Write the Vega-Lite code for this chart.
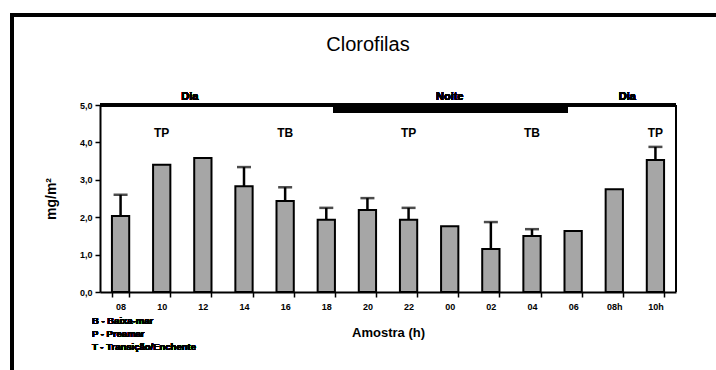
{
  "$schema": "https://vega.github.io/schema/vega-lite/v6.json",
  "width": 712,
  "height": 363,
  "autosize": {"type": "none"},
  "padding": {"left": 12, "top": 15, "right": -8, "bottom": -8},
  "background": "white",
  "view": {"stroke": "black", "strokeWidth": 4},
  "title": {"text": "Clorofilas", "offset": -40, "dx": 0, "fontSize": 20, "fontWeight": "normal", "font": "Liberation Sans", "anchor": "middle", "color": "black"},
  "config": {
    "font": "Liberation Sans",
    "axis": {"domainColor": "black", "tickColor": "black", "labelColor": "black", "titleColor": "black", "grid": false}
  },
  "data": {"values": [
    {"hora": "08", "valor": 2.03, "sup": 2.6},
    {"hora": "10", "valor": 3.40, "sup": null},
    {"hora": "12", "valor": 3.58, "sup": null},
    {"hora": "14", "valor": 2.83, "sup": 3.34},
    {"hora": "16", "valor": 2.43, "sup": 2.8},
    {"hora": "18", "valor": 1.93, "sup": 2.25},
    {"hora": "20", "valor": 2.19, "sup": 2.51},
    {"hora": "22", "valor": 1.93, "sup": 2.25},
    {"hora": "00", "valor": 1.76, "sup": null},
    {"hora": "02", "valor": 1.15, "sup": 1.87},
    {"hora": "04", "valor": 1.50, "sup": 1.68},
    {"hora": "06", "valor": 1.63, "sup": null},
    {"hora": "08h", "valor": 2.75, "sup": null},
    {"hora": "10h", "valor": 3.53, "sup": 3.88}
  ]},
  "encoding": {
    "x": {
      "field": "hora", "type": "nominal", "sort": null,
      "scale": {"range": [88, 664], "paddingInner": 0.58, "paddingOuter": 0.29},
      "axis": {
        "orient": "bottom", "offset": -86, "title": "Amostra (h)", "labelAngle": 0,
        "labelFont": "Liberation Sans", "labelFontSize": 9, "labelFontWeight": "bold", "labelPadding": 5,
        "titleFontSize": 13, "titleFontWeight": "bold", "titlePadding": 15,
        "domainWidth": 2, "tickWidth": 1.5, "tickSize": 5, "tickBand": "extent"
      }
    },
    "y": {
      "type": "quantitative",
      "scale": {"domain": [0, 5], "nice": false, "zero": true, "range": [277, 90]}
    }
  },
  "layer": [
    {
      "mark": {"type": "bar", "fill": "#a6a6a6", "stroke": "black", "strokeWidth": 2},
      "encoding": {
        "y": {
          "field": "valor", "type": "quantitative",
          "axis": {
            "orient": "left", "offset": -88, "title": "mg/m²", "values": [0, 1, 2, 3, 4, 5],
            "labelExpr": "replace(format(datum.value, '.1f'), '.', ',')",
            "labelFontSize": 9, "labelFontWeight": "bold", "labelPadding": 3,
            "titleFontSize": 14, "titleFontWeight": "bold", "titlePadding": 21,
            "domainWidth": 2, "tickWidth": 1.5, "tickSize": 5
          }
        }
      }
    },
    {
      "transform": [{"filter": "datum.sup != null"}],
      "mark": {"type": "rule", "color": "black", "strokeWidth": 2.5},
      "encoding": {"y": {"field": "valor", "type": "quantitative"}, "y2": {"field": "sup"}}
    },
    {
      "transform": [{"filter": "datum.sup != null"}],
      "mark": {"type": "tick", "color": "black", "thickness": 2.5, "size": 14},
      "encoding": {"y": {"field": "sup", "type": "quantitative"}}
    },
    {
      "data": {"values": [
        {"hora": "10", "rotulo": "TP"},
        {"hora": "16", "rotulo": "TB"},
        {"hora": "22", "rotulo": "TP"},
        {"hora": "04", "rotulo": "TB"},
        {"hora": "10h", "rotulo": "TP"}
      ]},
      "mark": {"type": "text", "fontSize": 12, "fontWeight": "bold", "baseline": "middle", "color": "black"},
      "encoding": {"text": {"field": "rotulo"}, "y": {"datum": 4.25}}
    },
    {
      "mark": {"type": "rect", "color": "black"},
      "encoding": {
        "x": {"datum": "18", "bandPosition": 0.89},
        "x2": {"datum": "06", "bandPosition": 0.2},
        "y": {"datum": 5},
        "y2": {"datum": 4.8}
      }
    },
    {
      "mark": {"type": "text", "fontSize": 11, "fontWeight": "bold", "baseline": "bottom", "color": "black", "text": "Dia", "dx": -13},
      "encoding": {"x": {"datum": "12", "bandPosition": 0.5}, "y": {"datum": 5.08}}
    },
    {
      "mark": {"type": "text", "fontSize": 11, "fontWeight": "bold", "baseline": "bottom", "color": "black", "text": "Noite"},
      "encoding": {"x": {"datum": "00", "bandPosition": 0.5}, "y": {"datum": 5.08}}
    },
    {
      "mark": {"type": "text", "fontSize": 11, "fontWeight": "bold", "baseline": "bottom", "color": "black", "text": "Dia", "dx": 13},
      "encoding": {"x": {"datum": "08h", "bandPosition": 0.5}, "y": {"datum": 5.08}}
    },
    {
      "mark": {"type": "text", "fontSize": 9.5, "fontWeight": "bold", "baseline": "top", "align": "left", "color": "black", "lineHeight": 13, "clip": false, "dx": -20,
        "text": ["B - Baixa-mar", "P - Preamar", "T - Transição/Enchente"]},
      "encoding": {"x": {"datum": "08", "bandPosition": 0}, "y": {"datum": -0.65}}
    },
    {
      "mark": {"type": "rule", "color": "black", "strokeWidth": 2.5},
      "encoding": {
        "x": {"datum": "08", "bandPosition": -0.69},
        "x2": {"datum": "10h", "bandPosition": 1.69},
        "y": {"datum": 5}
      }
    },
    {
      "mark": {"type": "rule", "color": "black", "strokeWidth": 2},
      "encoding": {
        "x": {"datum": "10h", "bandPosition": 1.69},
        "y": {"datum": 0},
        "y2": {"datum": 5}
      }
    }
  ]
}
